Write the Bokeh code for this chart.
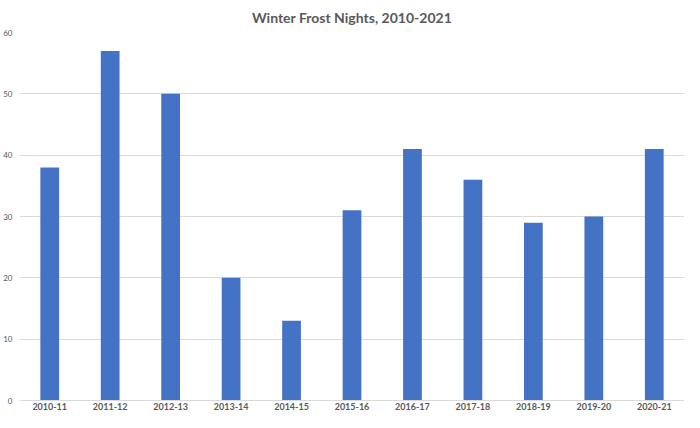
from bokeh.plotting import figure
from bokeh.models import Range1d, FactorRange, Title, ColumnDataSource
from bokeh.embed import file_html
from bokeh.resources import INLINE

seasons = ["2010-11", "2011-12", "2012-13", "2013-14", "2014-15", "2015-16",
           "2016-17", "2017-18", "2018-19", "2019-20", "2020-21"]
frost_nights = [38, 57, 50, 20, 13, 31, 41, 36, 29, 30, 41]
y_ticks = [0, 10, 20, 30, 40, 50, 60]

src = ColumnDataSource(data=dict(season=seasons, nights=frost_nights))

p = figure(width=684, height=412, output_backend="svg", toolbar_location=None,
           x_range=FactorRange(*seasons, range_padding=0), y_range=Range1d(0, 60),
           min_border_left=0, min_border_right=0, min_border_top=4, min_border_bottom=0)
p.title = None
p.add_layout(Title(text="Winter Frost Nights, 2010-2021", align="center",
                   text_font="Lato", text_font_size="14px", text_font_style="bold",
                   text_color="#595959", standoff=13), "above")

p.vbar(x="season", top="nights", width=0.31, source=src,
       fill_color="#4472C4", line_color=None)

p.outline_line_color = None
p.xgrid.grid_line_color = None
p.ygrid.grid_line_color = "#D9D9D9"
p.ygrid.grid_line_width = 1
p.yaxis.ticker = y_ticks
p.yaxis.axis_line_color = None
p.yaxis.major_tick_line_color = None
p.yaxis.minor_tick_line_color = None
p.yaxis.major_tick_out = 0
p.yaxis.major_tick_in = 0
p.yaxis.minor_tick_out = 0
p.yaxis.major_label_text_font = "Lato"
p.yaxis.major_label_text_font_size = "8px"
p.yaxis.major_label_text_color = "#595959"
p.yaxis.major_label_standoff = 7

p.xaxis.axis_line_color = "#D9D9D9"
p.xaxis.major_tick_line_color = None
p.xaxis.minor_tick_line_color = None
p.xaxis.major_tick_out = 0
p.xaxis.major_tick_in = 0
p.xaxis.minor_tick_out = 0
p.xaxis.major_label_text_font = "Lato"
p.xaxis.major_label_text_font_size = "9px"
p.xaxis.major_label_text_font_style = "bold"
p.xaxis.major_label_text_color = "#595959"
p.xaxis.major_label_standoff = 2

open("out.html", "w").write(file_html(p, INLINE))
